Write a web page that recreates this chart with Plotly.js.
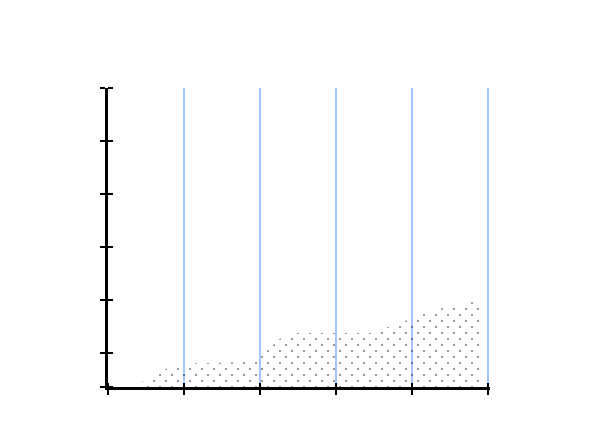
<!DOCTYPE html>
<html>
<head>
<meta charset="utf-8">
<script src="https://cdn.plot.ly/plotly-3.0.1.min.js"></script>
<style>
  html, body { margin: 0; padding: 0; background: #fff; }
  #chart { width: 598px; height: 448px; }
</style>
</head>
<body>
<div id="chart"></div>
<script>
// area outline
const xs = [0.45, 0.75, 1.14, 1.87, 2.01, 2.26, 2.49, 3.51, 3.64, 3.88, 4.11, 4.34, 4.74, 4.92]
const ys = [1.1, 3.4, 4.5, 4.7, 5.7, 9.1, 10.2, 10.2, 11.1, 12.3, 13.6, 14.7, 15.8, 16.4]
const y_tick_vals = [0, 6.4, 16.4, 26.4, 36.4, 46.4, 56.4]

const margin = { l: 108, r: 108, t: 88, b: 61 }
const plot_w = 598 - margin.l - margin.r
const plot_h = 448 - margin.t - margin.b

const x_px_per_unit = 76
const x_range = [0, plot_w / x_px_per_unit]
const y_range = [0, 56.4]
const y_px_per_unit = plot_h / y_range[1]

// the dot lattice is staggered: two 12px dot grids, each on its own subplot
// whose plot box is nudged so the pattern origin moves (data stays put)
const pattern_offsets = [[10, 5], [4, 11]]

function make_area(n)
{
    return {
        x: xs,
        y: ys,
        xaxis: 'x' + n,
        yaxis: 'y' + n,
        type: 'scatter',
        mode: 'lines',
        line: { width: 0, color: 'rgba(0,0,0,0)' },
        fill: 'tozeroy',
        fillcolor: 'rgba(0,0,0,0)',
        fillpattern: { shape: '.', size: 12, solidity: 0.014, fgcolor: '#111', bgcolor: 'rgba(0,0,0,0)' },
        hoverinfo: 'skip',
        showlegend: false
    }
}

function offset_axes(off)
{
    const dx = off[0], dy = off[1]
    return {
        x: {
            visible: false,
            domain: [dx / plot_w, 1],
            range: [x_range[0] + dx / x_px_per_unit, x_range[1]],
            anchor: 'free', position: 0
        },
        y: {
            visible: false,
            domain: [0, 1 - dy / plot_h],
            range: [y_range[0], y_range[1] - dy / y_px_per_unit],
            anchor: 'free', position: 0
        }
    }
}

function ghost(xa, ya)
{
    return { x: [x_range[0]], y: [y_range[0]], xaxis: xa, yaxis: ya, mode: 'markers',
             marker: { opacity: 0 }, hoverinfo: 'skip', showlegend: false }
}

const axis_common = {
    showticklabels: false,
    zeroline: false,
    ticks: 'outside',
    ticklen: 5,
    tickwidth: 2.5,
    tickcolor: '#000'
}

const layout = {
    width: 598,
    height: 448,
    margin: margin,
    paper_bgcolor: '#fff',
    plot_bgcolor: 'rgba(0,0,0,0)',
    showlegend: false,
    xaxis: Object.assign({}, axis_common, {
        range: x_range, tick0: 0, dtick: 1,
        showline: true, linecolor: '#000', linewidth: 3,
        showgrid: true, gridcolor: '#a3c6fa', gridwidth: 2
    }),
    yaxis: Object.assign({}, axis_common, {
        range: y_range, tickmode: 'array', tickvals: y_tick_vals,
        showline: true, linecolor: '#000', linewidth: 3,
        showgrid: false
    }),
    // second set of ticks, moved 5px inward, so ticks cross the axis lines
    xaxis2: Object.assign({}, axis_common, {
        range: x_range, tick0: 0, dtick: 1,
        overlaying: 'x', anchor: 'free', position: 5 / plot_h, side: 'bottom',
        showline: false, showgrid: false
    }),
    yaxis2: Object.assign({}, axis_common, {
        range: y_range, tickmode: 'array', tickvals: y_tick_vals,
        overlaying: 'y', anchor: 'free', position: 5 / plot_w, side: 'left',
        showline: false, showgrid: false
    })
}

const traces = [ghost('x', 'y'), ghost('x2', 'y2')]
pattern_offsets.forEach((off, i) => {
    const n = i + 3
    const ax = offset_axes(off)
    layout['xaxis' + n] = ax.x
    layout['yaxis' + n] = ax.y
    traces.push(make_area(n))
})

Plotly.newPlot('chart', traces, layout, { displayModeBar: false, staticPlot: true })
</script>
</body>
</html>
